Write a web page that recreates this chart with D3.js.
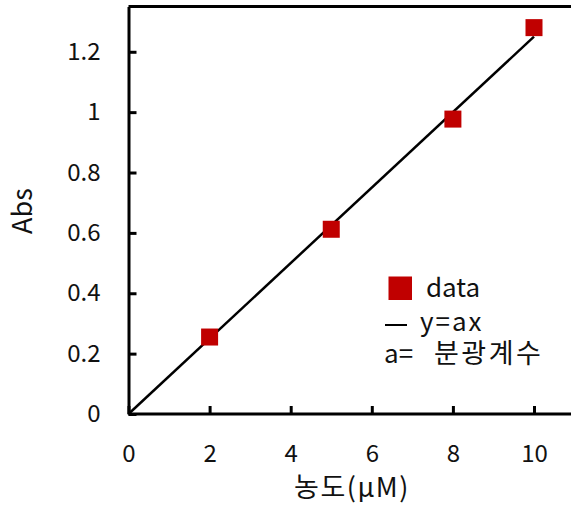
<!DOCTYPE html>
<html><head><meta charset="utf-8">
<script src="https://cdn.jsdelivr.net/npm/d3@7"></script>
<style>
html,body{margin:0;padding:0;background:#fff;overflow:hidden}
text{font-family:"Noto Sans CJK KR","Noto Sans",sans-serif;fill:#111}
</style></head><body>
<svg id="c" width="571" height="508"></svg>
<script>
const concX = [2, 5, 8, 10];
const absY = [0.255, 0.612, 0.977, 1.28];
const slopeA = 0.125;
const fitX = [0, 10];
const xTicks = [0, 2, 4, 6, 8, 10];
const yTicks = [0, 0.2, 0.4, 0.6, 0.8, 1, 1.2];
const xTitle = "농도(μM)";
const yTitle = "Abs";
const legendLabels = ["data", "y=ax", "a=", "분광계수"];

const svg = d3.select("#c");
const x = d3.scaleLinear().domain([0, 11]).range([128.5, 128.5 + 11 * 40.55]);
const y = d3.scaleLinear().domain([0, 1.35]).range([414, 6.5]);

// frame: top border
svg.append("line").attr("x1", x(0)).attr("x2", 571).attr("y1", y(1.35)).attr("y2", y(1.35))
  .attr("stroke", "#000").attr("stroke-width", 3);

// axes
const xAxis = svg.append("g").attr("transform", `translate(0,${y(0)})`)
  .call(d3.axisBottom(x).tickValues(xTicks).tickSizeInner(-8).tickSizeOuter(0).tickPadding(31).tickFormat(d3.format("~g")));
const yAxis = svg.append("g").attr("transform", `translate(${x(0)},0)`)
  .call(d3.axisLeft(y).tickValues(yTicks).tickSizeInner(-8).tickSizeOuter(0).tickPadding(28).tickFormat(d3.format("~g")));
[xAxis, yAxis].forEach(g => {
  g.select(".domain").attr("stroke", "#000").attr("stroke-width", 3);
  g.selectAll(".tick line").attr("stroke", "#000").attr("stroke-width", 3);
  g.selectAll(".tick text").style("font-size", "24px").attr("fill", "#111")
   .style("font-family", '"Noto Sans CJK KR","Noto Sans",sans-serif');
});
xAxis.select(".domain").attr("d", `M${x(0)},0H571`);

// fit line
const line = d3.line().x(d => x(d)).y(d => y(slopeA * d));
svg.append("path").datum(fitX).attr("d", line).attr("fill", "none")
  .attr("stroke", "#000").attr("stroke-width", 2.5);

// data squares
const s = 17;
svg.selectAll("rect.pt").data(concX).enter().append("rect").attr("class", "pt")
  .attr("x", (d) => x(d) - s / 2).attr("y", (d, i) => y(absY[i]) - s / 2)
  .attr("width", s).attr("height", s).attr("fill", "#c00000");

// axis titles
svg.append("text").attr("x", 352).attr("y", 497).attr("text-anchor", "middle")
  .style("font-size", "27px").style("letter-spacing", "1.5px").text(xTitle);
svg.append("text").attr("transform", "translate(32,211) rotate(-90)").attr("text-anchor", "middle")
  .style("font-size", "27px").text(yTitle);

// legend
const lg = svg.append("g");
lg.append("rect").attr("x", 388.5).attr("y", 276.5).attr("width", 23.5).attr("height", 23.5).attr("fill", "#c00000");
lg.append("text").attr("x", 426).attr("y", 296.5).style("font-size", "26px").text(legendLabels[0]);
lg.append("line").attr("x1", 385).attr("x2", 407).attr("y1", 325).attr("y2", 325).attr("stroke", "#000").attr("stroke-width", 2);
lg.append("text").attr("x", 420).attr("y", 331).style("font-size", "26px").style("letter-spacing", "2px").text(legendLabels[1]);
const t3 = lg.append("text").attr("x", 384).attr("y", 363).style("font-size", "26px");
t3.append("tspan").text(legendLabels[2]);
t3.append("tspan").attr("x", 434).style("font-size", "27px").style("letter-spacing", "2.5px").text(legendLabels[3]);
</script></body></html>
